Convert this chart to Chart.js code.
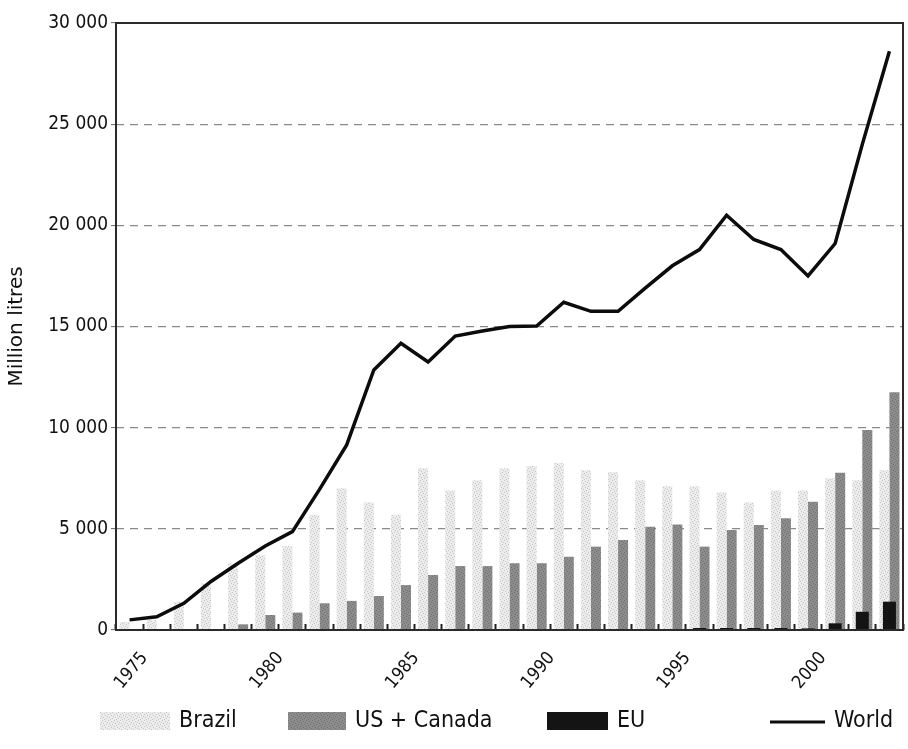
<!DOCTYPE html>
<html>
<head>
<meta charset="utf-8">
<title>Ethanol production</title>
<script src="https://cdn.jsdelivr.net/npm/chart.js@4.4.1/dist/chart.umd.min.js"></script>
<style>
  html, body { margin: 0; padding: 0; background: #fff; }
  #wrap { width: 908px; height: 749px; }
</style>
</head>
<body>
<div id="wrap"><canvas id="chart"></canvas></div>
<script>
// Data (million litres)
const YEARS = [1975, 1976, 1977, 1978, 1979, 1980, 1981, 1982, 1983, 1984,
               1985, 1986, 1987, 1988, 1989, 1990, 1991, 1992, 1993, 1994,
               1995, 1996, 1997, 1998, 1999, 2000, 2001, 2002, 2003];
const BRAZIL = [400, 500, 1400, 2300, 3300, 3700, 4150, 5700, 7000, 6300,
                5700, 8000, 6900, 7400, 8000, 8100, 8250, 7900, 7800, 7400,
                7100, 7100, 6800, 6300, 6900, 6900, 7500, 7400, 7900];
const US_CANADA = [0, 0, 0, 0, 280, 740, 860, 1320, 1440, 1680,
                   2220, 2720, 3160, 3160, 3300, 3300, 3620, 4120, 4450, 5100,
                   5220, 4120, 4940, 5190, 5520, 6340, 7770, 9880, 11750];
const EU = [0, 0, 0, 0, 0, 0, 0, 0, 0, 0,
            0, 0, 0, 0, 0, 0, 0, 0, 0, 0,
            0, 100, 100, 100, 100, 80, 330, 900, 1400];
const WORLD = [500, 650, 1320, 2400, 3300, 4150, 4860, 6950, 9150, 12850,
               14170, 13250, 14530, 14780, 15000, 15020, 16200, 15750, 15750, 16900,
               18000, 18800, 20500, 19300, 18800, 17500, 19100, 24000, 28600];
const Y_TICKS = [0, 5000, 10000, 15000, 20000, 25000, 30000];
const SERIES_LABELS = ['Brazil', 'US + Canada', 'EU', 'World'];

const FONT = '"DejaVu Sans Condensed", "DejaVu Sans", sans-serif';
const FONT_WIDE = '"DejaVu Sans", sans-serif';

function formatThousands(v) {
    return String(v).replace(/\B(?=(\d{3})+(?!\d))/g, ' ');
}

// small fixed stipple tiles to imitate the printed screen
function stipple(ctx, bg, fg, dots) {
    const c = document.createElement('canvas');
    c.width = 6; c.height = 6;
    const g = c.getContext('2d');
    g.fillStyle = bg;
    g.fillRect(0, 0, 6, 6);
    g.fillStyle = fg;
    dots.forEach(([x, y]) => g.fillRect(x, y, 1, 1));
    return ctx.createPattern(c, 'repeat');
}

const canvas = document.getElementById('chart');
const ctx = canvas.getContext('2d');
const brazilFill = stipple(ctx, '#ececec', '#c4c4c4', [[0, 0], [3, 1], [1, 3], [4, 4], [2, 5], [5, 2]]);
const usFill = stipple(ctx, '#8c8c8c', '#6f6f6f', [[0, 0], [3, 1], [1, 3], [4, 4], [2, 5], [5, 2]]);

// plot frame on all four sides
const framePlugin = {
    id: 'frame',
    afterDatasetsDraw(chart) {
        const a = chart.chartArea;
        const c = chart.ctx;
        c.save();
        c.strokeStyle = '#2a2a2a';
        c.lineWidth = 2;
        c.strokeRect(a.left, a.top, a.right - a.left, a.bottom - a.top);
        c.restore();
    }
};

// legend laid out like the printed one
const LEGEND_ITEMS = [
    { x: 100, w: 70, kind: 'box' },
    { x: 288, w: 58, kind: 'box' },
    { x: 547, w: 61, kind: 'box' },
    { x: 770, w: 55, kind: 'line' }
];
const legendPlugin = {
    id: 'printLegend',
    afterDraw(chart) {
        const c = chart.ctx;
        const yMid = 721;
        c.save();
        c.font = '23px ' + FONT;
        c.textBaseline = 'middle';
        LEGEND_ITEMS.forEach((item, i) => {
            const ds = chart.data.datasets[i];
            if (item.kind === 'box') {
                c.fillStyle = ds.backgroundColor;
                c.fillRect(item.x, yMid - 9, item.w, 18);
            } else {
                c.strokeStyle = ds.borderColor;
                c.lineWidth = 3;
                c.beginPath();
                c.moveTo(item.x, yMid + 1);
                c.lineTo(item.x + item.w, yMid + 1);
                c.stroke();
            }
            c.fillStyle = '#111';
            c.fillText(SERIES_LABELS[i], item.x + item.w + 9, yMid);
        });
        c.restore();
    }
};

new Chart(ctx, {
    type: 'bar',
    data: {
        labels: YEARS,
        datasets: [
            {
                label: SERIES_LABELS[0],
                data: BRAZIL,
                backgroundColor: brazilFill,
                categoryPercentage: 0.74,
                barPercentage: 1.0,
                order: 2
            },
            {
                label: SERIES_LABELS[1],
                data: US_CANADA,
                backgroundColor: usFill,
                categoryPercentage: 0.74,
                barPercentage: 1.0,
                order: 2
            },
            {
                label: SERIES_LABELS[2],
                data: EU,
                backgroundColor: '#141414',
                grouped: false,
                categoryPercentage: 1.0,
                barPercentage: 0.48,
                order: 1
            },
            {
                type: 'line',
                label: SERIES_LABELS[3],
                data: WORLD,
                borderColor: '#0c0c0c',
                borderWidth: 3.5,
                pointRadius: 0,
                tension: 0,
                fill: false,
                order: 0
            }
        ]
    },
    options: {
        responsive: true,
        maintainAspectRatio: false,
        animation: false,
        layout: { padding: { top: 23, right: 5, bottom: 49, left: 0 } },
        plugins: {
            legend: { display: false },
            tooltip: { enabled: false }
        },
        scales: {
            x: {
                offset: true,
                grid: {
                    offset: true,
                    drawOnChartArea: false,
                    drawTicks: true,
                    tickLength: -6,
                    tickWidth: 2,
                    tickColor: '#222'
                },
                border: { display: false },
                ticks: {
                    autoSkip: false,
                    maxRotation: 50,
                    minRotation: 50,
                    labelOffset: 15,
                    padding: 24,
                    color: '#111',
                    font: { family: FONT, size: 18 },
                    callback: (v, i) => (YEARS[i] % 5 === 0 ? String(YEARS[i]) : '')
                },
                afterFit: (scale) => {
                    scale.height = 70;
                    scale.paddingLeft = 0;
                    scale.paddingRight = 0;
                }
            },
            y: {
                min: 0,
                max: 30000,
                afterBuildTicks: (scale) => { scale.ticks = Y_TICKS.map(v => ({ value: v })); },
                grid: {
                    color: (c) => (c.tick.value === 0 || c.tick.value === 30000 ? 'rgba(0,0,0,0)' : '#8a8a8a'),
                    lineWidth: 1.2,
                    drawTicks: true,
                    tickLength: 5,
                    tickColor: '#666',
                    tickWidth: 1
                },
                border: { display: false, dash: [8, 6] },
                ticks: {
                    padding: 3,
                    color: '#111',
                    font: { family: FONT, size: 19 },
                    callback: (v) => formatThousands(v)
                },
                title: {
                    display: true,
                    text: 'Million litres',
                    color: '#111',
                    font: { family: FONT_WIDE, size: 20 },
                    padding: { top: 5, bottom: 0 }
                },
                afterFit: (scale) => {
                    scale.width = 116;
                    scale.paddingTop = 0;
                    scale.paddingBottom = 0;
                }
            }
        }
    },
    plugins: [framePlugin, legendPlugin]
});
</script>
</body>
</html>
